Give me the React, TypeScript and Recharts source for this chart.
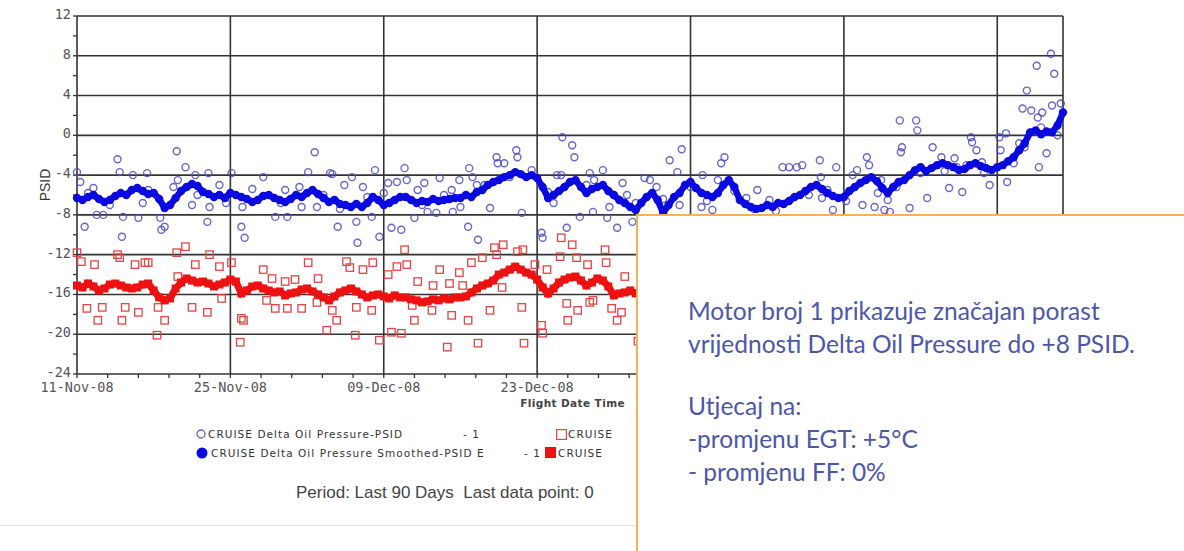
import React from 'react'
import { ScatterChart, Scatter, XAxis, YAxis, ReferenceLine } from 'recharts'

// axis setup
const xLabels = ['11-Nov-08', '25-Nov-08', '09-Dec-08', '23-Dec-08', '06-Jan-09', '20-Jan-09', '03-Feb-09']
const xMajor = [0, 14, 28, 42, 56, 70, 84]
const xTicks = Array.from({ length: 33 }, (_, i) => Math.round(i * 28) / 10)
const yMajor = [-24, -20, -16, -12, -8, -4, 0, 4, 8, 12]
const yTicks = [-24, -22, -20, -18, -16, -14, -12, -10, -8, -6, -4, -2, 0, 2, 4, 6, 8, 10, 12]

// smoothed series, one value every half day from 11-Nov-08
const blueSmooth = [
  -6.3, -6.5, -6.2, -6.0, -6.4, -6.7, -6.5, -6.1, -5.8, -6.0,
  -5.5, -5.3, -5.6, -5.9, -5.8, -6.4, -7.3, -7.0, -6.3, -5.6,
  -5.2, -4.9, -5.1, -5.7, -5.9, -6.2, -6.0, -6.3, -5.8, -6.0,
  -6.2, -6.4, -6.7, -6.5, -6.1, -6.0, -6.3, -6.5, -6.7, -6.4,
  -6.0, -6.2, -5.8, -5.5, -5.9, -6.3, -6.7, -6.5, -6.9, -7.0,
  -7.2, -6.9, -7.2, -6.8, -6.2, -6.5, -7.0, -6.8, -6.5, -6.2,
  -6.2, -6.5, -6.8, -6.6, -6.7, -6.4, -6.6, -6.5, -6.4, -6.3,
  -6.3, -6.0, -6.2, -5.7, -5.5, -5.0, -4.7, -4.5, -4.2, -4.0,
  -3.7, -3.9, -4.2, -4.0, -4.3, -5.2, -6.3, -6.0, -5.6, -5.2,
  -4.7, -4.5, -5.2, -5.8, -5.4, -5.2, -5.0, -5.6, -6.0, -6.5,
  -6.8, -7.2, -7.5, -6.8, -6.2, -5.8, -6.5, -7.8, -7.0, -6.2,
  -5.8, -5.0, -4.7, -5.3, -5.8, -6.0, -6.2, -5.8, -5.0, -4.5,
  -5.2, -6.5, -6.9, -7.2, -7.4, -7.3, -7.0, -7.2, -6.8, -6.9,
  -6.6, -6.2, -6.0, -5.6, -5.2, -5.0, -5.4, -5.8, -6.1, -6.3,
  -6.2, -5.6, -5.2, -4.8, -4.5, -4.2, -4.6, -5.3, -5.8, -5.2,
  -4.7, -4.5, -4.0, -3.5, -3.2, -3.6, -3.3, -3.0, -2.8, -3.0,
  -3.2, -3.5, -3.4, -3.0, -2.8, -3.1, -3.3, -3.5, -3.2, -3.0,
  -2.6, -2.2, -1.5, -0.8, 0.3, 0.5, 0.1, 0.4, 0.3, 1.0,
  2.3,
]

const redSmooth = [
  -15.1, -15.3, -14.9, -15.2, -15.6, -15.4, -15.0, -14.9, -15.1, -15.3,
  -15.4, -15.3, -15.0, -14.9, -15.6, -16.3, -16.6, -16.4, -15.4, -14.8,
  -14.4, -14.6, -14.8, -14.7, -14.9, -15.2, -15.0, -14.8, -14.5, -14.7,
  -15.9, -15.6, -15.2, -15.1, -15.4, -15.6, -15.8, -15.7, -16.1, -15.9,
  -15.8, -15.5, -15.4, -15.7, -16.0, -16.3, -16.6, -16.2, -15.8, -15.6,
  -15.4, -15.7, -16.0, -16.3, -16.1, -16.0, -16.2, -16.4, -16.1, -16.3,
  -16.3, -16.5, -16.6, -16.8, -16.7, -16.5, -16.6, -16.4, -16.5, -16.3,
  -16.3, -16.2, -15.8, -15.4, -15.1, -14.9, -14.6, -14.0, -13.8, -13.5,
  -13.2, -13.5, -13.8, -14.0, -14.5, -15.3, -15.9, -15.4, -14.8, -14.5,
  -14.3, -14.2, -14.6, -15.1, -14.8, -14.4, -14.6, -15.2, -16.1, -15.9,
  -15.8, -15.6, -15.9, -15.7, -15.5, -15.8, -16.0, -15.7, -15.4, -15.6,
  -15.3, -15.1, -15.4, -15.6, -15.2, -15.0, -15.3, -15.5, -15.2, -14.9,
  -15.1, -15.4, -15.6, -15.8, -15.5, -15.3, -15.6, -15.4, -15.1, -15.3,
  -15.0, -14.8, -15.1, -15.3, -15.0, -14.7, -14.9, -15.2, -14.8, -14.6,
  -14.8, -14.5, -14.3, -14.6, -14.4, -14.1, -14.3, -14.5, -14.2, -14.0,
  -13.8, -14.1, -13.9, -13.6, -13.8, -13.5, -13.3, -13.6, -13.4, -13.2,
  -13.0, -13.3, -13.1, -12.8, -13.0, -12.7, -12.9, -12.6, -12.4, -12.7,
  -12.5, -12.2, -12.4, -12.0, -11.8, -12.1, -11.9, -11.6, -11.8, -11.5,
  -11.4,
]

// raw readings [day, psid]
const blueRaw = [
  [0.0, -3.7], [0.3, -4.7], [0.7, -9.2], [1.5, -5.3], [1.8, -8.0], [2.4, -8.0], [3.7, -2.4], [3.9, -3.7],
  [4.2, -8.2], [4.1, -10.2], [5.1, -4.0], [5.6, -8.3], [6.4, -3.8], [6.5, -5.5], [7.6, -8.3], [7.7, -9.5],
  [8.0, -9.2], [9.1, -1.6], [9.9, -3.2], [9.2, -4.5], [10.5, -7.0], [10.8, -4.0], [11.9, -8.7], [12.0, -3.8],
  [12.1, -7.2], [13.0, -5.0], [14.1, -3.8], [15.0, -9.2], [15.3, -10.3], [15.1, -7.2], [17.0, -4.2], [18.1, -8.2],
  [19.2, -8.2], [19.0, -5.5], [20.3, -5.2], [20.5, -7.2], [21.1, -3.7], [21.7, -1.7], [21.9, -7.2], [23.1, -3.8],
  [23.3, -3.9], [23.8, -9.2], [24.4, -5.0], [25.1, -4.2], [25.5, -8.7], [25.6, -10.8], [26.1, -5.2], [26.9, -8.2],
  [27.2, -3.5], [27.6, -10.2], [28.4, -4.8], [28.7, -9.3], [29.2, -4.7], [29.6, -9.5], [29.9, -3.3], [30.1, -4.5],
  [30.8, -8.3], [31.1, -5.5], [31.7, -4.8], [32.0, -7.7], [32.8, -7.8], [33.1, -4.3], [34.2, -5.5], [34.3, -7.7],
  [34.9, -4.5], [35.7, -9.2], [35.8, -3.3], [36.1, -4.2], [36.6, -10.5], [36.5, -5.0], [37.7, -7.3], [38.3, -2.2],
  [38.4, -2.8], [39.0, -2.8], [40.1, -1.5], [40.2, -2.2], [40.6, -7.8], [42.4, -9.8], [42.5, -10.3], [43.0, -5.7],
  [43.8, -4.0], [44.3, -0.2], [45.2, -1.0], [45.4, -2.2], [44.2, -4.0], [44.7, -9.3], [45.9, -8.2], [46.8, -3.8],
  [47.2, -4.5], [48.0, -3.5], [47.1, -7.7], [48.4, -8.3], [49.3, -9.3], [49.8, -4.8], [50.2, -6.0], [48.6, -7.2],
  [50.7, -8.7], [51.8, -4.3], [52.3, -4.5], [52.9, -5.2], [54.1, -2.5], [55.2, -1.4], [54.8, -3.7], [55.0, -7.0],
  [57.0, -7.2], [57.1, -4.0], [58.0, -7.5], [58.8, -2.8], [59.1, -2.2], [58.5, -4.5], [62.1, -5.5], [61.1, -6.3],
  [63.2, -6.5], [64.4, -3.2], [65.0, -3.2], [65.7, -3.2], [66.2, -3.0], [67.8, -2.5], [67.9, -4.2], [69.0, -7.5],
  [69.3, -3.2], [68.0, -6.3], [70.8, -4.0], [71.2, -3.5], [71.7, -7.0], [72.1, -2.2], [72.3, -3.0], [72.8, -7.2],
  [73.1, -5.8], [73.7, -7.5], [74.2, -7.7], [74.0, -6.5], [75.1, 1.5], [76.6, 1.5], [76.7, 0.5], [75.3, -1.2],
  [75.2, -1.7], [76.0, -7.3], [77.6, -6.3], [78.1, -1.2], [78.9, -2.2], [79.6, -5.3], [80.1, -2.3], [80.3, -3.2],
  [80.8, -5.7], [81.6, -0.2], [81.7, -0.7], [82.1, -1.5], [82.6, -2.7], [83.3, -5.0], [84.2, -0.2], [84.8, 0.2],
  [84.3, -1.5], [84.9, -4.7], [86.0, -0.8], [86.3, 2.7], [86.7, 4.5], [87.1, 2.5], [87.6, 7.0], [87.7, 1.8],
  [88.1, 2.3], [88.5, -1.8], [87.8, -3.2], [88.9, 8.2], [89.2, 6.2], [89.0, 3.0], [89.8, 3.2],
  [1.0, -5.8], [3.0, -7.0], [6.0, -6.8], [8.8, -5.2], [11.0, -6.0], [13.6, -6.8], [16.0, -5.4], [18.6, -6.8],
  [22.5, -6.0], [24.0, -7.4], [26.5, -6.2], [28.0, -5.8], [31.5, -7.0], [33.5, -6.0], [35.0, -7.2], [37.2, -5.0],
  [39.5, -4.2], [41.5, -3.5], [43.5, -6.8], [46.5, -5.0], [49.0, -6.0], [51.0, -6.8], [53.5, -6.4], [56.0, -5.2],
  [57.5, -6.6], [60.0, -5.6], [61.8, -7.4], [63.8, -7.6], [66.8, -6.0], [68.5, -5.5], [70.2, -6.6], [73.4, -4.5],
  [74.8, -5.2], [77.0, -3.8], [79.2, -3.6], [81.2, -3.0], [82.8, -3.8], [85.5, -2.8], [86.5, -1.2], [88.0, 0.8],
  [89.5, 0.0],
]

const redRaw = [
  [0.0, -11.8], [0.4, -12.7], [0.9, -17.4], [1.6, -13.0], [1.9, -18.6], [2.3, -17.3], [3.7, -12.0], [3.9, -12.3],
  [4.1, -18.6], [4.4, -17.3], [5.3, -13.0], [5.6, -17.8], [6.2, -12.8], [6.5, -12.8], [7.3, -20.1], [7.4, -17.3],
  [8.0, -18.6], [9.1, -11.8], [9.9, -11.2], [9.2, -14.2], [10.5, -17.3], [10.8, -13.0], [11.9, -17.8], [12.1, -12.0],
  [13.0, -13.2], [13.2, -16.4], [14.1, -12.8], [15.0, -18.4], [15.2, -18.6], [14.9, -20.8], [17.0, -13.5], [17.3, -16.6],
  [17.8, -14.4], [18.1, -17.4], [19.0, -14.7], [19.2, -17.4], [19.9, -14.5], [20.5, -17.4], [21.1, -12.8], [21.9, -16.8],
  [22.0, -14.4], [22.8, -19.6], [23.3, -17.6], [23.7, -18.6], [24.6, -12.7], [24.9, -13.3], [25.4, -20.1], [25.5, -17.3],
  [26.1, -13.5], [27.0, -12.8], [27.6, -20.6], [26.9, -17.6], [28.4, -14.0], [28.7, -19.8], [29.2, -13.2], [29.6, -19.9],
  [29.9, -11.5], [30.1, -13.0], [30.6, -17.1], [30.8, -18.6], [31.1, -14.7], [32.4, -17.6], [32.5, -15.1], [33.1, -13.5],
  [33.8, -21.3], [34.0, -14.9], [34.2, -18.1], [34.9, -13.8], [35.2, -15.1], [35.7, -18.6], [36.0, -12.8], [36.6, -20.9],
  [37.0, -12.3], [37.7, -17.6], [38.1, -11.3], [38.3, -12.0], [38.9, -11.0], [38.8, -15.3], [40.2, -11.7], [40.7, -11.5],
  [40.6, -17.3], [40.8, -20.9], [41.8, -13.0], [42.4, -19.1], [42.5, -19.9], [42.9, -13.5], [44.2, -10.3], [44.1, -12.2],
  [45.2, -11.0], [45.6, -12.3], [44.7, -16.9], [44.8, -18.6], [45.7, -17.6], [46.6, -13.0], [46.8, -16.8], [47.1, -16.6],
  [48.2, -11.5], [48.3, -12.8], [48.8, -17.4], [49.3, -18.6], [49.7, -17.8], [50.0, -14.2], [51.2, -20.7],
  [54.0, -12.5], [58.0, -18.0], [62.0, -13.0], [66.0, -17.5], [70.0, -12.0], [74.0, -16.5], [78.0, -11.5],
  [82.0, -15.5], [86.0, -10.5], [89.0, -14.0],
]

const blueSmoothData = blueSmooth.map((v, i) => ({ x: i * 0.5, y: v }))
const redSmoothData = redSmooth.map((v, i) => ({ x: i * 0.5, y: v }))
const blueRawData = blueRaw.map(([x, y]) => ({ x, y }))
const redRawData = redRaw.map(([x, y]) => ({ x, y }))

const tickFont = 'DejaVu Sans Mono'
const gridColor = '#333'
const noteLeft = 636 // the annotation box hides everything right of here below the -8 line

const XTick = ({ x, y, payload }: any) => {
  const i = xMajor.findIndex((d) => Math.abs(d - payload.value) < 0.01)
  // labels that sit under the note box are not drawn
  if (i < 0 || x > noteLeft - 10) return <g />
  return (
    <text x={x} y={y} dy={12} textAnchor="middle" fontSize={13.5} fontFamily={tickFont} fill="#555">
      {xLabels[i]}
    </text>
  )
}

const YTick = ({ x, y, payload }: any) => {
  if (!yMajor.includes(payload.value)) return <g />
  return (
    <text x={x} y={y} dy={3} textAnchor="end" fontSize={13.5} fontFamily={tickFont} fill="#555">
      {payload.value}
    </text>
  )
}

const rawCircle = (p: any) => (
  <circle cx={p.cx} cy={p.cy} r={3.5} fill="none" stroke="#4a4ac8" strokeWidth={1.4} strokeOpacity={0.85} />
)
const smoothCircle = (p: any) => <circle cx={p.cx} cy={p.cy} r={4.2} fill="#0a0ae0" />
const rawSquare = (p: any) => (
  <rect x={p.cx - 3.7} y={p.cy - 3.7} width={7.4} height={7.4} fill="none" stroke="#e34444" strokeWidth={1.3} />
)
const smoothSquare = (p: any) => <rect x={p.cx - 4} y={p.cy - 4} width={8} height={8} fill="#ee1111" />

const legendText: React.CSSProperties = {
  position: 'absolute',
  fontFamily: 'DejaVu Sans',
  fontSize: 10.5,
  letterSpacing: 1.05,
  color: '#333',
  whiteSpace: 'pre',
  lineHeight: '12px',
}

export default function App() {
  return (
    <div style={{ position: 'absolute', left: 0, top: 0, width: 1184, height: 551, background: '#fff', overflow: 'hidden' }}>
      <ScatterChart width={1184} height={551} margin={{ top: 16, right: 121, left: 37, bottom: 147 }}>
        <XAxis
          type="number"
          dataKey="x"
          domain={[0, 90]}
          ticks={xTicks}
          interval={0}
          tick={<XTick />}
          tickSize={4}
          tickMargin={2}
          axisLine={{ stroke: gridColor, strokeWidth: 1.6 }}
          tickLine={{ stroke: gridColor, strokeWidth: 1.3 }}
          height={30}
        />
        <YAxis
          type="number"
          dataKey="y"
          domain={[-24, 12]}
          ticks={yTicks}
          interval={0}
          tick={<YTick />}
          tickSize={4}
          tickMargin={2}
          axisLine={{ stroke: gridColor, strokeWidth: 1.6 }}
          tickLine={{ stroke: gridColor, strokeWidth: 1.3 }}
          width={40}
        />
        {xMajor.slice(1).concat([90]).map((d) => (
          <ReferenceLine key={'vx' + d} x={d} stroke={gridColor} strokeWidth={1.6} />
        ))}
        {yMajor.slice(1).map((v) => (
          <ReferenceLine key={'hy' + v} y={v} stroke={gridColor} strokeWidth={1.6} />
        ))}
        <Scatter data={redRawData} shape={rawSquare} isAnimationActive={false} />
        <Scatter
          data={redSmoothData}
          shape={smoothSquare}
          line={{ stroke: '#ee1111', strokeWidth: 7 }}
          isAnimationActive={false}
        />
        <Scatter data={blueRawData} shape={rawCircle} isAnimationActive={false} />
        <Scatter
          data={blueSmoothData}
          shape={smoothCircle}
          line={{ stroke: '#0a0ae0', strokeWidth: 6.5 }}
          isAnimationActive={false}
        />
      </ScatterChart>

      <div
        style={{
          position: 'absolute',
          left: 45,
          top: 185,
          transform: 'translate(-50%, -50%) rotate(-90deg)',
          fontFamily: 'Liberation Sans',
          fontSize: 14,
          color: '#333',
        }}
      >
        PSID
      </div>
      <div
        style={{
          position: 'absolute',
          right: 1184 - 625,
          top: 397,
          fontFamily: 'DejaVu Sans',
          fontWeight: 'bold',
          fontSize: 10.5,
          color: '#444',
          letterSpacing: 0.4,
        }}
      >
        Flight Date Time
      </div>

      {/* legend */}
      <svg style={{ position: 'absolute', left: 196, top: 429 }} width={10} height={10}>
        <circle cx={5} cy={5} r={4} fill="none" stroke="#6666cc" strokeWidth={1.3} />
      </svg>
      <div style={{ ...legendText, left: 208, top: 428 }}>CRUISE Delta Oil Pressure-PSID</div>
      <div style={{ ...legendText, left: 463, top: 428 }}>- 1</div>
      <svg style={{ position: 'absolute', left: 196, top: 447 }} width={12} height={12}>
        <circle cx={6} cy={6} r={5.5} fill="#0a0ae0" />
      </svg>
      <div style={{ ...legendText, left: 211, top: 447 }}>CRUISE Delta Oil Pressure Smoothed-PSID E</div>
      <div style={{ ...legendText, left: 524, top: 447 }}>- 1</div>
      <svg style={{ position: 'absolute', left: 556, top: 429 }} width={11} height={11}>
        <rect x={0.6} y={0.6} width={9.8} height={9.8} fill="none" stroke="#e34444" strokeWidth={1.2} />
      </svg>
      <div style={{ ...legendText, left: 568, top: 428 }}>CRUISE</div>
      <svg style={{ position: 'absolute', left: 545, top: 447 }} width={11} height={11}>
        <rect x={0} y={0} width={11} height={11} fill="#ee1111" />
      </svg>
      <div style={{ ...legendText, left: 558, top: 447 }}>CRUISE</div>

      <div
        style={{
          position: 'absolute',
          left: 296,
          top: 483,
          fontFamily: 'Liberation Sans',
          fontSize: 17,
          color: '#444',
          whiteSpace: 'pre',
        }}
      >
        {'Period: Last 90 Days  Last data point: 0'}
      </div>
      <div style={{ position: 'absolute', left: 0, top: 525, width: 640, height: 1, background: '#e2e2e2' }} />

      {/* annotation box */}
      <div
        style={{
          position: 'absolute',
          left: noteLeft,
          top: 214,
          width: 560,
          height: 350,
          boxSizing: 'border-box',
          background: '#fff',
          borderLeft: '2px solid #f3b257',
          borderTop: '2px solid #f3b257',
          paddingLeft: 50,
          paddingTop: 78,
          fontFamily: 'Lato',
          fontSize: 24.5,
          lineHeight: '33px',
          color: '#4c56ab',
          whiteSpace: 'nowrap',
        }}
      >
        <div>Motor broj 1 prikazuje značajan porast</div>
        <div>vrijednosti Delta Oil Pressure do +8 PSID.</div>
        <div style={{ height: 29 }} />
        <div>Utjecaj na:</div>
        <div>-promjenu EGT: +5°C</div>
        <div>- promjenu FF: 0%</div>
      </div>
    </div>
  )
}
